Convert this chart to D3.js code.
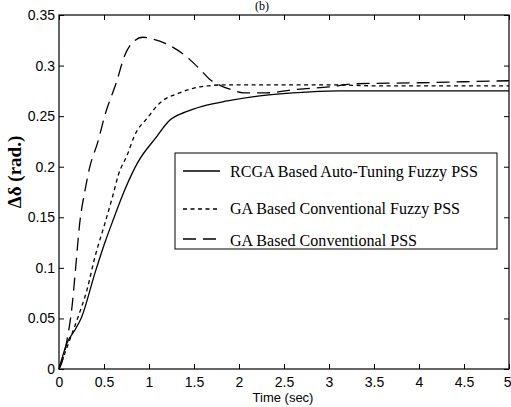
<!DOCTYPE html>
<html>
<head>
<meta charset="utf-8">
<script src="https://cdn.jsdelivr.net/npm/d3@7"></script>
<style>
  html, body { margin: 0; padding: 0; background: #fff; }
  svg { display: block; }
</style>
</head>
<body>
<svg id="chart" width="511" height="407"></svg>
<script>
// ---- data ----
const xTicks = [0, 0.5, 1, 1.5, 2, 2.5, 3, 3.5, 4, 4.5, 5];
const xTickLabels = ["0", "0.5", "1", "1.5", "2", "2.5", "3", "3.5", "4", "4.5", "5"];
const yTicks = [0, 0.05, 0.1, 0.15, 0.2, 0.25, 0.3, 0.35];
const yTickLabels = ["0", "0.05", "0.1", "0.15", "0.2", "0.25", "0.3", "0.35"];

const seriesNames = [
  "RCGA Based Auto-Tuning Fuzzy PSS",
  "GA Based Conventional Fuzzy PSS",
  "GA Based Conventional PSS"
];

// RCGA Based Auto-Tuning Fuzzy PSS (solid)
const tSolid = [0, 0.09, 0.18, 0.25, 0.4, 0.51, 0.6, 0.73, 0.88, 1.07, 1.23, 1.4, 1.6, 1.87, 2.23, 2.6, 3.1, 3.5, 4, 4.5, 5];
const ySolid = [0, 0.026, 0.039, 0.051, 0.095, 0.125, 0.147, 0.177, 0.205, 0.228, 0.246, 0.254, 0.26, 0.265, 0.27, 0.273, 0.275, 0.275, 0.275, 0.275, 0.275];

// GA Based Conventional Fuzzy PSS (dotted)
const tDotted = [0, 0.12, 0.21, 0.31, 0.4, 0.51, 0.6, 0.66, 0.76, 0.84, 0.98, 1.12, 1.34, 1.57, 1.87, 2.2, 2.6, 3, 3.5, 4, 4.5, 5];
const yDotted = [0, 0.029, 0.051, 0.078, 0.111, 0.144, 0.172, 0.192, 0.212, 0.231, 0.248, 0.263, 0.273, 0.279, 0.281, 0.281, 0.281, 0.281, 0.28, 0.28, 0.28, 0.28];

// GA Based Conventional PSS (dashed)
const tDashed = [0, 0.03, 0.09, 0.12, 0.14, 0.18, 0.23, 0.29, 0.34, 0.43, 0.51, 0.64, 0.73, 0.82, 0.93, 1.05, 1.18, 1.4, 1.57, 1.68, 1.8, 1.92, 2.05, 2.3, 2.6, 3.0, 3.3, 4.0, 4.5, 5];
const yDashed = [0, 0.006, 0.029, 0.045, 0.058, 0.095, 0.144, 0.177, 0.199, 0.224, 0.251, 0.284, 0.31, 0.323, 0.328, 0.326, 0.322, 0.31, 0.296, 0.286, 0.28, 0.276, 0.273, 0.273, 0.276, 0.279, 0.282, 0.283, 0.284, 0.285];

// ---- drawing ----
const svg = d3.select("#chart");
const L = 59, R = 509, T = 15, B = 369;
const x = d3.scaleLinear().domain([0, 5]).range([L, R]);
const y = d3.scaleLinear().domain([0, 0.35]).range([B, T]);

const sansFont = "'Liberation Sans', Arial, sans-serif";
const serifFont = "'Liberation Serif', 'Times New Roman', serif";

// title at top
svg.append("text").attr("x", 262).attr("y", 10)
  .attr("text-anchor", "middle").attr("font-family", serifFont)
  .attr("font-size", 12).text("(b)");

// frame
svg.append("rect").attr("x", L).attr("y", T).attr("width", R - L).attr("height", B - T)
  .attr("fill", "none").attr("stroke", "#000").attr("stroke-width", 1.2);

function styleAxis(g) {
  g.select(".domain").remove();
  g.selectAll("line").attr("stroke", "#000").attr("stroke-width", 1);
  g.selectAll("text").attr("font-family", sansFont).attr("font-size", 14).attr("fill", "#000");
}

const xAxis = d3.axisBottom(x).tickValues(xTicks)
  .tickFormat((d, i) => xTickLabels[i]).tickSizeInner(-5).tickSizeOuter(0).tickPadding(8);
const gx = svg.append("g").attr("transform", `translate(0,${B})`).call(xAxis).call(styleAxis);
// keep the last label inside the window
gx.selectAll(".tick text").filter(d => d === 5).attr("text-anchor", "end").attr("dx", 2);

const xAxisTop = d3.axisTop(x).tickValues(xTicks).tickFormat("").tickSizeInner(-5).tickSizeOuter(0);
svg.append("g").attr("transform", `translate(0,${T})`).call(xAxisTop).call(styleAxis);

const yAxis = d3.axisLeft(y).tickValues(yTicks)
  .tickFormat((d, i) => yTickLabels[i]).tickSizeInner(-5).tickSizeOuter(0).tickPadding(4);
svg.append("g").attr("transform", `translate(${L},0)`).call(yAxis).call(styleAxis);

const yAxisRight = d3.axisRight(y).tickValues(yTicks).tickFormat("").tickSizeInner(-5).tickSizeOuter(0);
svg.append("g").attr("transform", `translate(${R},0)`).call(yAxisRight).call(styleAxis);

// axis titles
svg.append("text").attr("x", 283).attr("y", 402)
  .attr("text-anchor", "middle").attr("font-family", sansFont)
  .attr("font-size", 13).text("Time (sec)");

svg.append("text")
  .attr("transform", "translate(21,172) rotate(-90)")
  .attr("text-anchor", "middle").attr("font-family", serifFont)
  .attr("font-weight", "bold").attr("font-size", 19).text("Δδ (rad.)");

// curves
const line = d3.line().x(d => x(d[0])).y(d => y(d[1])).curve(d3.curveMonotoneX);
const series = [
  { pts: d3.zip(tSolid, ySolid), dash: null },
  { pts: d3.zip(tDotted, yDotted), dash: "4,3.5" },
  { pts: d3.zip(tDashed, yDashed), dash: "13,7" }
];
series.forEach(s => {
  svg.append("path").datum(s.pts).attr("d", line)
    .attr("fill", "none").attr("stroke", "#000").attr("stroke-width", 1.3)
    .attr("stroke-dasharray", s.dash);
});

// legend
const lg = svg.append("g");
lg.append("rect").attr("x", 175).attr("y", 153).attr("width", 322).attr("height", 96)
  .attr("fill", "#fff").attr("stroke", "#000").attr("stroke-width", 1);
const legY = [171, 209, 239];
const legTextY = [177, 214, 246];
const legW = [248, 230, 187];
seriesNames.forEach((name, i) => {
  lg.append("line").attr("x1", 183).attr("x2", 220).attr("y1", legY[i]).attr("y2", legY[i])
    .attr("stroke", "#000").attr("stroke-width", 1.3).attr("stroke-dasharray", series[i].dash);
  lg.append("text").attr("x", 230).attr("y", legTextY[i])
    .attr("font-family", serifFont).attr("font-size", 17)
    .attr("textLength", legW[i]).attr("lengthAdjust", "spacingAndGlyphs")
    .text(name);
});
</script>
</body>
</html>
